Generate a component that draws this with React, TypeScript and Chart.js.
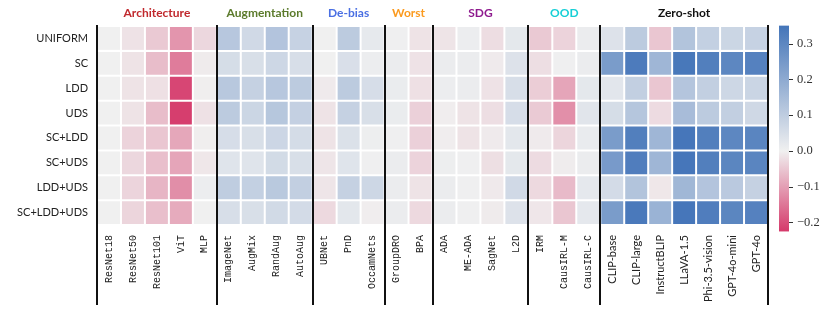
import React, { useEffect, useRef } from "react";
import { Chart, registerables } from "chart.js";

Chart.register(...registerables);

const rowLabels = ["UNIFORM", "SC", "LDD", "UDS", "SC+LDD", "SC+UDS", "LDD+UDS", "SC+LDD+UDS"];

const columnLabels = [
  "ResNet18", "ResNet50", "ResNet101", "ViT", "MLP",
  "ImageNet", "AugMix", "RandAug", "AutoAug",
  "UBNet", "PnD", "OccamNets",
  "GroupDRO", "BPA",
  "ADA", "ME-ADA", "SagNet", "L2D",
  "IRM", "CausIRL-M", "CausIRL-C",
  "CLIP-base", "CLIP-large", "InstructBLIP", "LLaVA-1.5", "Phi-3.5-vision", "GPT-4o-mini", "GPT-4o",
];

const groupNames = ["Architecture", "Augmentation", "De-bias", "Worst", "SDG", "OOD", "Zero-shot"];
const groupSizes = [5, 4, 3, 2, 4, 3, 7];
const groupColors = ["#c0282d", "#5b7a2b", "#4a6fe3", "#fb9a1e", "#8e1a8e", "#17cfd6", "#111111"];

// values per row (28 columns)
const rowUNIFORM = [0, -0.017, -0.048, -0.112, -0.031, 0.116, 0.065, 0.124, 0.085, 0, 0.106, 0.02, 0.002, -0.016, -0.015, 0.008, -0.023, 0.024, -0.048, -0.036, 0.01, 0.039, 0.106, -0.052, 0.126, 0.092, 0.075, 0.085];
const rowSC = [0, -0.016, -0.063, -0.143, -0.006, 0.055, 0.049, 0.071, 0.051, 0, 0.047, 0.008, 0.01, -0.017, 0.01, 0.01, -0.007, 0.039, -0.022, 0.002, 0.01, 0.24, 0.332, 0.165, 0.342, 0.322, 0.299, 0.315];
const rowLDD = [0, -0.016, -0.02, -0.209, -0.003, 0.114, 0.088, 0.116, 0.106, -0.007, 0.106, 0.053, 0.012, -0.02, 0.008, 0.01, -0.017, 0.051, -0.043, -0.092, 0.024, 0.028, 0.094, -0.052, 0.122, 0.094, 0.071, 0.077];
const rowUDS = [0, -0.016, -0.063, -0.219, -0.018, 0.106, 0.075, 0.118, 0.09, -0.016, 0.088, 0.049, 0.012, -0.039, -0.004, -0.016, -0.022, 0.053, -0.047, -0.119, 0.031, 0.055, 0.12, -0.026, 0.147, 0.106, 0.094, 0.067];
const rowSCLDD = [0, -0.036, -0.052, -0.09, -0.003, 0.053, 0.049, 0.073, 0.057, -0.016, 0.043, 0.006, 0.002, -0.039, -0.004, -0.016, -0.007, 0.026, -0.007, -0.033, 0.014, 0.24, 0.322, 0.165, 0.346, 0.322, 0.299, 0.305];
const rowSCUDS = [0, -0.031, -0.06, -0.092, -0.011, 0.035, 0.035, 0.061, 0.049, -0.014, 0.035, 0.002, 0.01, -0.036, 0.006, 0.002, -0.021, 0.024, -0.026, -0.005, 0.01, 0.244, 0.326, 0.165, 0.346, 0.322, 0.303, 0.305];
const rowLDDUDS = [0, -0.034, -0.073, -0.121, 0.008, 0.1, 0.092, 0.112, 0.094, -0.014, 0.088, 0.071, 0.01, -0.016, 0.01, 0.002, -0.009, 0.065, -0.028, -0.066, 0.022, 0.059, 0.126, -0.011, 0.163, 0.124, 0.11, 0.088];
const rowSCLDDUDS = [0, -0.033, -0.06, -0.085, 0, 0.051, 0.049, 0.063, 0.059, -0.028, 0.026, -0.004, 0.01, -0.028, 0.01, 0.002, -0.006, 0.039, -0.012, -0.052, 0.022, 0.24, 0.338, 0.175, 0.346, 0.326, 0.303, 0.315];

const rowValues = [rowUNIFORM, rowSC, rowLDD, rowUDS, rowSCLDD, rowSCUDS, rowLDDUDS, rowSCLDDUDS];

const colorbarTicks = [-0.2, -0.1, 0.0, 0.1, 0.2, 0.3];
const colorMin = -0.225;
const colorMax = 0.35;
const axisMin = -0.207;
const axisMax = 0.349;

const negColor = [213, 57, 106];
const midColor = [240, 240, 240];
const posColor = [68, 117, 185];

function colorFor(v: number): string {
  let a: number[], b: number[], t: number;
  if (v < 0) {
    a = midColor; b = negColor; t = Math.min(1, v / colorMin);
  } else {
    a = midColor; b = posColor; t = Math.min(1, v / colorMax);
  }
  const c = a.map((x, i) => Math.round(x + (b[i] - x) * t));
  return `rgb(${c[0]},${c[1]},${c[2]})`;
}

const decorPlugin = {
  id: "decor",
  afterDatasetsDraw(chart: any) {
    const ctx = chart.ctx;
    const x = chart.scales.x;
    const area = chart.chartArea;
    ctx.save();
    // separators
    const bounds = [0];
    groupSizes.forEach((s) => bounds.push(bounds[bounds.length - 1] + s));
    ctx.strokeStyle = "#111";
    ctx.lineWidth = 2;
    bounds.forEach((b) => {
      const px = Math.round(x.getPixelForValue(b - 0.5));
      ctx.beginPath();
      ctx.moveTo(px, area.top - 1);
      ctx.lineTo(px, 305);
      ctx.stroke();
    });
    // group titles
    ctx.font = "bold 12px Lato";
    ctx.textAlign = "center";
    ctx.textBaseline = "middle";
    for (let g = 0; g < groupNames.length; g++) {
      const l = x.getPixelForValue(bounds[g] - 0.5);
      const r = x.getPixelForValue(bounds[g + 1] - 0.5);
      ctx.fillStyle = groupColors[g];
      ctx.fillText(groupNames[g], (l + r) / 2, 13);
    }
    // colorbar
    const cb = chart.scales.cb;
    const top = cb.getPixelForValue(colorMax);
    const bot = cb.getPixelForValue(colorMin);
    const cx0 = 779;
    const cx1 = 789;
    const grad = ctx.createLinearGradient(0, top, 0, bot);
    grad.addColorStop(0, colorFor(colorMax));
    grad.addColorStop((cb.getPixelForValue(0) - top) / (bot - top), colorFor(0));
    grad.addColorStop(1, colorFor(colorMin));
    ctx.fillStyle = grad;
    ctx.fillRect(cx0, top, cx1 - cx0, bot - top);
    ctx.strokeStyle = "#333";
    ctx.lineWidth = 1;
    colorbarTicks.forEach((v) => {
      const py = Math.round(cb.getPixelForValue(v)) + 0.5;
      ctx.beginPath();
      ctx.moveTo(cx1, py);
      ctx.lineTo(cx1 + 4, py);
      ctx.stroke();
    });
    ctx.restore();
  },
};

export default function App() {
  const ref = useRef<HTMLCanvasElement | null>(null);
  useEffect(() => {
    if (!ref.current) return;
    const datasets = rowValues.map((vals, r) => ({
      label: rowLabels[r],
      data: vals.map(() => [r, r + 1]),
      backgroundColor: vals.map((v) => colorFor(v)),
      borderColor: "#ffffff",
      borderWidth: 1,
      borderSkipped: false,
      inflateAmount: 0,
      grouped: false,
      barPercentage: 1,
      categoryPercentage: 1,
    }));
    const chart = new Chart(ref.current, {
      type: "bar",
      data: { labels: columnLabels, datasets: datasets as any },
      options: {
        responsive: false,
        animation: false,
        devicePixelRatio: 1,
        layout: { padding: { top: 26, left: 0, right: 0, bottom: 0 } },
        plugins: { legend: { display: false }, tooltip: { enabled: false } },
        scales: {
          x: {
            type: "category",
            grid: { display: false, drawTicks: false },
            border: { display: false },
            ticks: {
              autoSkip: false,
              maxRotation: 90,
              minRotation: 90,
              padding: 10,
              color: "#222",
              font: (c: any) =>
                c.index >= 21
                  ? { family: "Lato", size: 11 }
                  : { family: "Liberation Mono", size: 10 },
            },
            afterFit: (s: any) => {
              s.height = 87;
              s.paddingLeft = 0;
              s.paddingRight = 0;
            },
          },
          y: {
            type: "linear",
            min: 0,
            max: rowLabels.length,
            reverse: true,
            grid: { display: false, drawTicks: false },
            border: { display: false },
            afterBuildTicks: (s: any) => {
              s.ticks = rowLabels.map((_, i) => ({ value: i + 0.5 }));
            },
            ticks: {
              padding: 9,
              color: "#222",
              font: { family: "Lato", size: 11 },
              callback: (_v: any, i: number) => rowLabels[i],
            },
            afterFit: (s: any) => {
              s.width = 97;
              s.paddingTop = 0;
              s.paddingBottom = 0;
            },
          },
          cb: {
            type: "linear",
            position: "right",
            min: axisMin,
            max: axisMax,
            grid: { display: false, drawTicks: false },
            border: { display: false },
            afterBuildTicks: (s: any) => {
              s.ticks = colorbarTicks.map((v) => ({ value: v }));
            },
            ticks: {
              padding: 29,
              color: "#333",
              font: { family: "Liberation Serif", size: 12.5 },
              callback: (v: any) => {
                const n = Number(v);
                const s = Math.abs(n).toFixed(1);
                return n < -1e-9 ? "\u2212" + s : s;
              },
            },
            afterFit: (s: any) => {
              s.width = 63;
              s.paddingTop = 0;
              s.paddingBottom = 0;
            },
          },
        } as any,
      },
      plugins: [decorPlugin],
    });
    return () => chart.destroy();
  }, []);
  return (
    <div style={{ position: "absolute", left: 0, top: 0, width: 831, height: 312, background: "#fff" }}>
      <canvas ref={ref} width={831} height={312} style={{ width: 831, height: 312, display: "block" }} />
    </div>
  );
}
